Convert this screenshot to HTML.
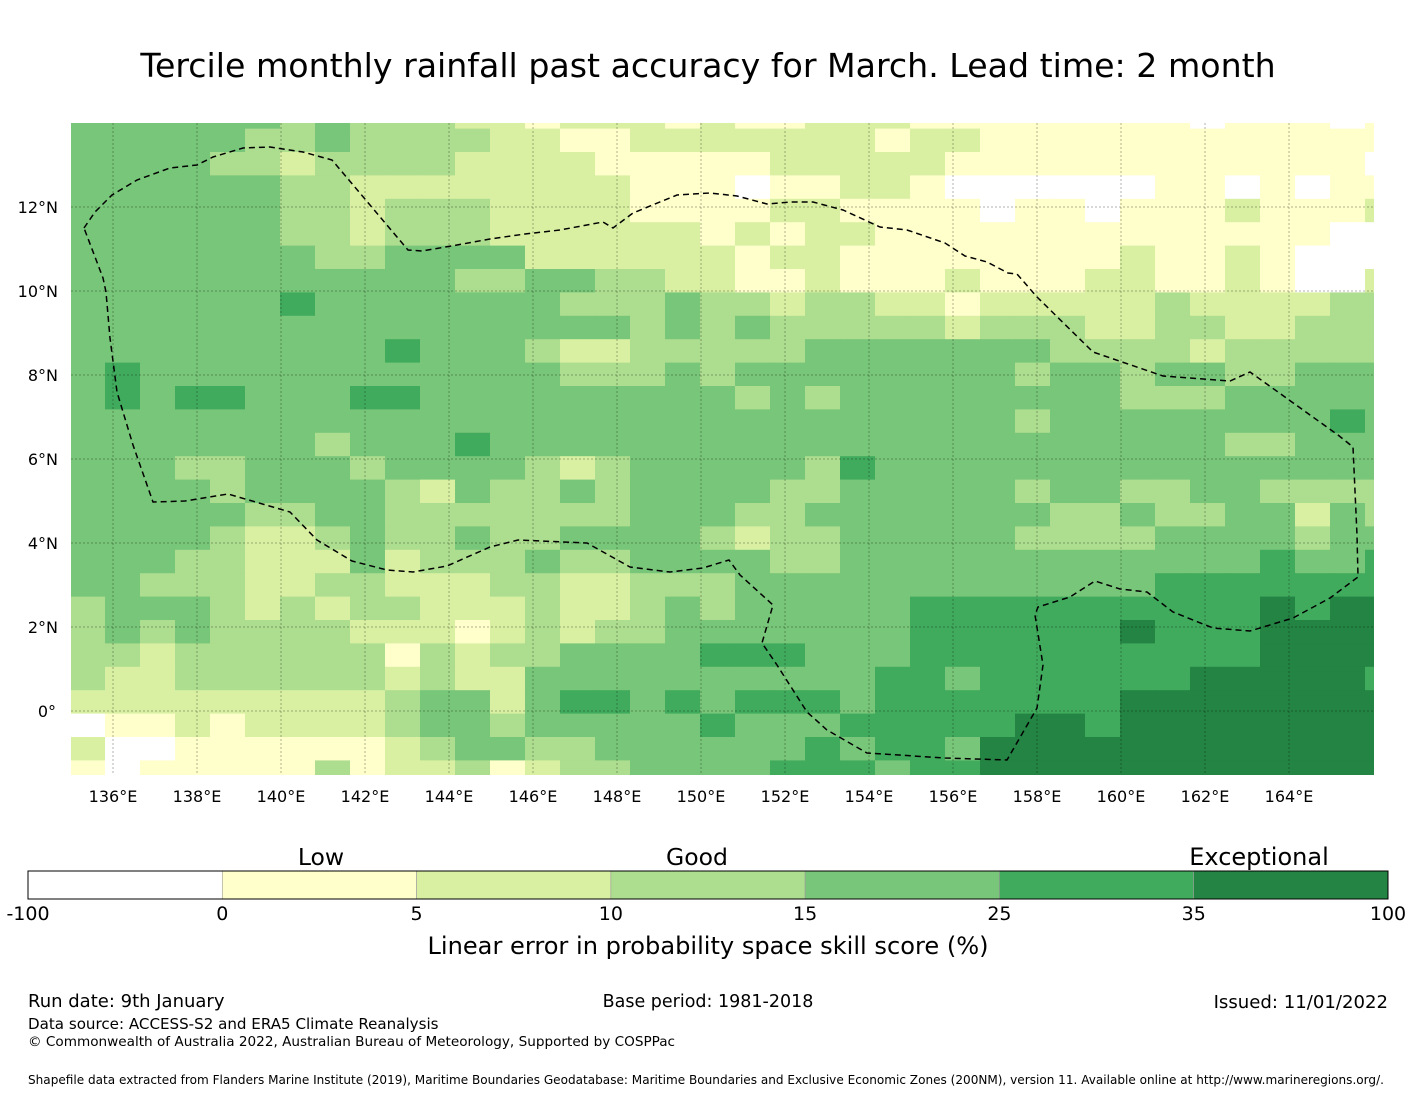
<!DOCTYPE html>
<html><head><meta charset="utf-8">
<style>
body{margin:0;background:#fff;}
svg{display:block;font-family:"Liberation Sans","DejaVu Sans",sans-serif;}
</style></head>
<body>
<svg id="chart" width="1416" height="1095" viewBox="0 0 1416 1095" xmlns="http://www.w3.org/2000/svg">
<rect width="1416" height="1095" fill="#fff"/>
<text x="708" y="77" font-size="33.2" text-anchor="middle" font-family="DejaVu Sans, Liberation Sans, sans-serif">Tercile monthly rainfall past accuracy for March. Lead time: 2 month</text>
<defs><clipPath id="mapclip"><rect x="71" y="123" width="1303" height="652"/></clipPath></defs>
<g id="map" clip-path="url(#mapclip)"></g>
<g id="grid"></g>
<g id="eez"></g>
<g id="xlab" font-size="16" text-anchor="middle" font-family="DejaVu Sans, Liberation Sans, sans-serif"></g>
<g id="ylab" font-size="16" text-anchor="end" font-family="DejaVu Sans, Liberation Sans, sans-serif"></g>
<g id="cbar"></g>
<g font-family="DejaVu Sans, Liberation Sans, sans-serif">
<text x="321" y="865" font-size="23.5" text-anchor="middle">Low</text>
<text x="697" y="865" font-size="23.5" text-anchor="middle">Good</text>
<text x="1259" y="865" font-size="24" text-anchor="middle">Exceptional</text>
<text x="708" y="954" font-size="24.1" text-anchor="middle">Linear error in probability space skill score (%)</text>
<text x="28" y="1007" font-size="18">Run date: 9th January</text>
<text x="708" y="1007" font-size="17.5" text-anchor="middle">Base period: 1981-2018</text>
<text x="1388" y="1008" font-size="18.1" text-anchor="end">Issued: 11/01/2022</text>
<text x="28" y="1029" font-size="15.1">Data source: ACCESS-S2 and ERA5 Climate Reanalysis</text>
<text x="28" y="1046" font-size="13.6">© Commonwealth of Australia 2022, Australian Bureau of Meteorology, Supported by COSPPac</text>
<text x="28" y="1084" font-size="12.07">Shapefile data extracted from Flanders Marine Institute (2019), Maritime Boundaries Geodatabase: Maritime Boundaries and Exclusive Economic Zones (200NM), version 11. Available online at http://www.marineregions.org/.</text>
</g>
</svg>
<script>
// Skill category per grid cell (0..6), rows from north to south, columns west to east
const gridRows = [
"44444434333221222121122211111111011101",
"44444334333322112222222122111111111111",
"44443323333222211111222221111111111110",
"44444433222222221110112210000001101011",
"44444433233322221111221111011011121112",
"44444433233322222212122111111111111100",
"44444443344442222221221111111121121000",
"44444444444334433221121112111221121002",
"44444454444444333433233221222223222233",
"44444444444444443434333332333223322333",
"44444444454443223333344444443333233333",
"45444444444444333434444444434434433444",
"45455444554444444443434444444433344444",
"44444444444444444444444444434444444454",
"44444443444544444444444444444444433444",
"44433444344443234444435444444444444444",
"44443444432433434444334444434433443333",
"44444334433333334443344444443343344243",
"44443223433433444432334444433334444344",
"44433222423334334444334444444444445445",
"44333223322233223334444444444445555555",
"34443232332223223434444455555555556566",
"34343333222123233444444455555565556666",
"33233333313233444455544455555555556666",
"32233333323224444444444554555555666665",
"22222222234424554545554555555566666666",
"01121222234434444454445555566566666666",
"20011111123443344444454554666666666666",
"10111113122312334444555455666666666666"
];
const levelColors = ["#ffffff","#ffffcc","#d9f0a3","#addd8e","#78c679","#41ab5d","#238443"];
const cbarTicks = ["-100","0","5","10","15","25","35","100"];
const lonTicks = [136,138,140,142,144,146,148,150,152,154,156,158,160,162,164];
const latTicks = [12,10,8,6,4,2,0];

const NS="http://www.w3.org/2000/svg";
function mk(tag, attrs, parent){const e=document.createElementNS(NS,tag);for(const k in attrs)e.setAttribute(k,attrs[k]);parent.appendChild(e);return e;}
const xLon = lon => 71 + (lon-135)*42;
const yLat = lat => 711 - lat*42;
const colX = c => 70 + c*35;
const rowY = r => 105.2 + r*23.4;

const map=document.getElementById('map');
gridRows.forEach((row,r)=>{
  for(let c=0;c<row.length;c++){
    const v=+row[c];
    const rc=mk('rect',{x:colX(c),y:rowY(r),width:35.6,height:23.9,fill:levelColors[v]},map);
    
    
  }
});

const grid=document.getElementById('grid');
lonTicks.forEach(l=>{
  const ln=mk('line',{x1:xLon(l),x2:xLon(l),y1:123,y2:775,stroke:"#000","stroke-opacity":0.3,"stroke-width":1,"stroke-dasharray":"2,2"},grid);
  
  
});
latTicks.forEach(l=>{
  const ln=mk('line',{x1:71,x2:1374,y1:yLat(l),y2:yLat(l),stroke:"#000","stroke-opacity":0.3,"stroke-width":1,"stroke-dasharray":"2,2"},grid);
  
  
});

const xlab=document.getElementById('xlab');
lonTicks.forEach(l=>{
  const t=mk('text',{x:xLon(l),y:802},xlab);t.textContent=l+"°E";
  
  
});
const ylab=document.getElementById('ylab');
latTicks.forEach(l=>{
  const t=mk('text',{x:l===0?56:58,y:yLat(l)+6},ylab);t.textContent=l===0?"0°":l+"°N";
  
  
});

const eezPts=[[84,228],[95,212],[112,195],[137,180],[170,168],[197,165],[213,157],[243,148],[270,147],[303,152],[332,160],[370,205],[408,250],[422,251],[457,245],[490,239],[525,234],[560,230],[603,222],[613,228],[633,213],[677,195],[710,193],[737,196],[767,204],[790,202],[813,202],[843,210],[880,227],[907,230],[945,243],[965,256],[987,262],[1008,273],[1017,274],[1037,297],[1093,352],[1163,376],[1230,381],[1250,372],[1338,435],[1353,447],[1357,535],[1358,577],[1330,598],[1293,618],[1250,631],[1213,628],[1173,612],[1147,592],[1120,589],[1095,581],[1070,597],[1038,607],[1035,615],[1043,665],[1037,708],[1007,760],[945,758],[867,753],[827,730],[807,712],[777,665],[762,643],[773,605],[740,575],[729,560],[703,568],[670,572],[630,567],[587,543],[518,540],[490,547],[447,566],[413,572],[387,570],[352,561],[317,540],[290,512],[228,494],[185,501],[153,502],[133,445],[117,392],[110,338],[106,292],[103,278],[84,228]];
const eez=document.getElementById('eez');
const pl=mk('polyline',{points:eezPts.map(p=>p.join(',')).join(' '),fill:"none",stroke:"#000","stroke-width":1.5,"stroke-dasharray":"6,4"},eez);



const cbar=document.getElementById('cbar');
const segW=(1388-28)/7;
for(let i=0;i<7;i++){
  const r=mk('rect',{x:28+i*segW,y:871,width:segW,height:28,fill:levelColors[i],stroke:"#9a9a9a","stroke-width":0.6},cbar);
  
  
}
const fr=mk('rect',{x:28,y:871,width:1360,height:28,fill:"none",stroke:"#000","stroke-width":1},cbar);


cbarTicks.forEach((s,i)=>{
  const t=mk('text',{x:28+i*segW,y:920,"font-size":19,"text-anchor":"middle","font-family":"DejaVu Sans, Liberation Sans, sans-serif"},cbar);
  t.textContent=s;
  
  
});
</script>
</body></html>
